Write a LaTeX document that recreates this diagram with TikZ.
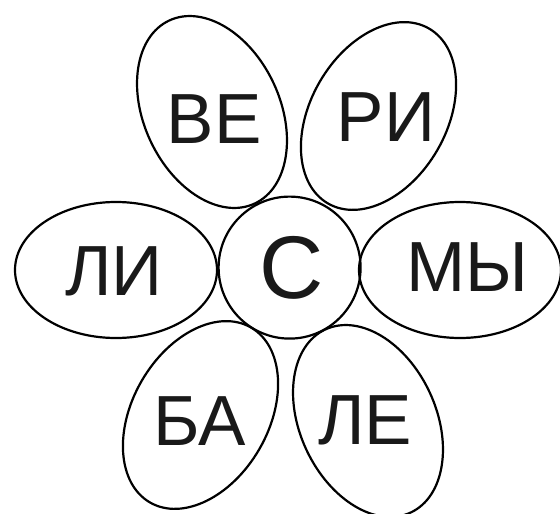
\documentclass[tikz,border=0pt]{standalone}
\usepackage{fontspec}
\setmainfont{Liberation Sans}
\usetikzlibrary{shapes.geometric}
\begin{document}
\begin{tikzpicture}[x=1pt,y=-1pt,
  petal/.style={draw=black, ellipse, line width=2.2pt, minimum width=202pt, minimum height=136pt, inner sep=0pt, outer sep=0pt},
  hub/.style={draw=black, circle, line width=2.2pt, minimum size=142pt, inner sep=0pt, outer sep=0pt},
  syl/.style={font=\fontsize{71}{71}\selectfont, text=black!90, inner sep=0pt},
  big/.style={font=\fontsize{89}{89}\selectfont, text=black!90, inner sep=0pt}
]
\useasboundingbox (0,0) rectangle (560,514);
% petals
\node[petal, rotate=115] (pve) at (212,112) {};
\node[petal, rotate=60]  (pri) at (378.5,116) {};
\node[petal]             (pli) at (116,270) {};
\node[petal]             (pmy) at (460,270) {};
\node[petal, rotate=60]  (pba) at (200.5,415) {};
\node[petal, rotate=115] (ple) at (368,421) {};
% centre
\node[hub] (hub) at (289.6,267.6) {};
% texts
\node[big] (tc)  at (292,267.5) {С};
\node[syl] (tve) at (214,119) {ВЕ};
\node[syl] (tri) at (386,117.5) {РИ};
\node[syl] (tli) at (114,271) {ЛИ};
\node[syl] (tmy) at (467,266.7) {МЫ};
\node[syl] (tba) at (200,421) {БА};
\node[syl] (tle) at (365,420) {ЛЕ};
\end{tikzpicture}
\end{document}
